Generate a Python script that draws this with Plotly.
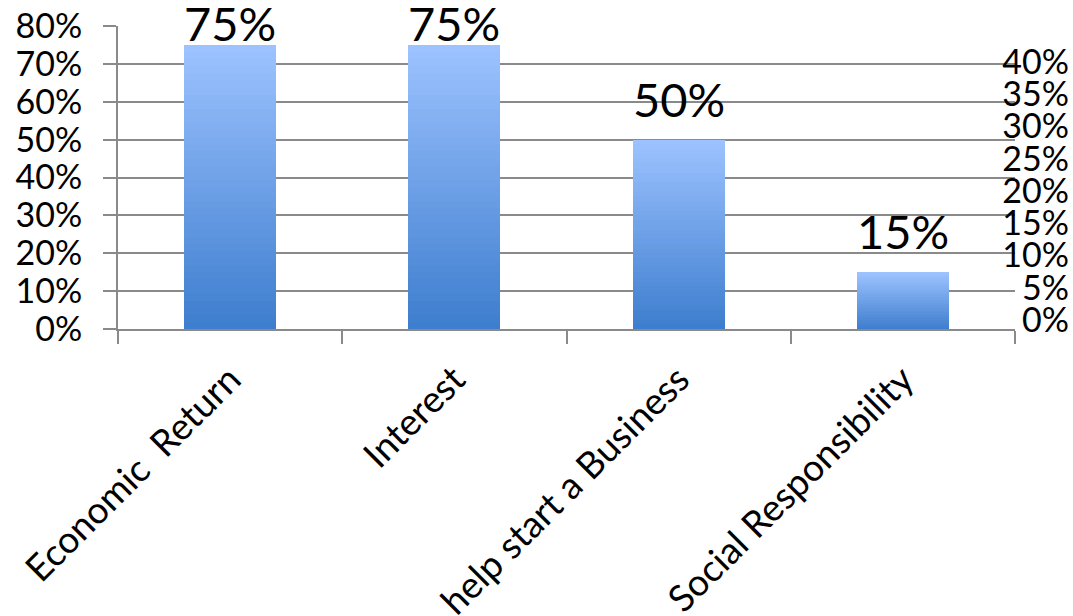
import plotly.graph_objects as go

categories = ["Economic\u00a0 Return", "Interest", "help start a Business", "Social Responsibility"]
values = [75, 75, 50, 15]
left_ticks = [0, 10, 20, 30, 40, 50, 60, 70, 80]
right_ticks = [0, 5, 10, 15, 20, 25, 30, 35, 40]

FONT = "Lato"
N = 40
top_rgb = (156, 194, 255)
bot_rgb = (62, 126, 206)

W, H = 1073, 616
PLOT_TOP, PLOT_BOTTOM, PLOT_LEFT, PLOT_RIGHT = 26, 329, 118, 1015
MR = 3
area_w = W - PLOT_LEFT - MR

fig = go.Figure()
for i in range(N):
    t = i / (N - 1)
    c = tuple(round(bot_rgb[k] + (top_rgb[k] - bot_rgb[k]) * t) for k in range(3))
    fig.add_trace(go.Bar(
        x=categories, y=[v / N for v in values],
        marker=dict(color=f"rgb{c}", line=dict(width=0)),
        hoverinfo="skip", showlegend=False))

# invisible trace for the right axis
fig.add_trace(go.Scatter(x=categories, y=[0, 0, 0, 0], yaxis="y2", mode="markers",
                         marker=dict(opacity=0), hoverinfo="skip", showlegend=False))

px_per_unit = (PLOT_BOTTOM - PLOT_TOP) / 80
for c, v in zip(categories, values):
    shift = min(41, (80.9 - v) * px_per_unit)
    fig.add_annotation(x=c, y=v, text=f"{v}%", showarrow=False, yanchor="middle",
                       yshift=shift, font=dict(family=FONT, size=47, color="black"))

# right axis geometry: 0% label at y=320 px, 40% at y=62 px
r_px = (320 - 62) / 40
y2_range = [(320 - PLOT_BOTTOM) / r_px, (320 - PLOT_TOP) / r_px]

grid = "#8a8a8a"
fig.update_layout(
    width=W, height=H,
    margin=dict(l=PLOT_LEFT, r=MR, t=PLOT_TOP, b=H - PLOT_BOTTOM),
    plot_bgcolor="white", paper_bgcolor="white",
    barmode="stack", bargap=0.59,
    font=dict(family=FONT, size=34, color="black"),
    xaxis=dict(type="category", domain=[0, (PLOT_RIGHT - PLOT_LEFT) / area_w],
               tickson="boundaries", automargin=False,
               ticks="outside", ticklen=13, tickcolor=grid, tickwidth=2,
               showline=True, linecolor=grid, linewidth=2, showgrid=False,
               tickangle=-45, ticklabelstandoff=12,
               tickfont=dict(family=FONT, size=37, color="black")),
    yaxis=dict(range=[0, 80], tickvals=left_ticks, automargin=False,
               ticktext=[f"{t}%" for t in left_ticks],
               ticks="outside", ticklen=13, tickcolor=grid, tickwidth=2,
               showline=True, linecolor=grid, linewidth=2,
               showgrid=True, gridcolor=grid, gridwidth=2, zeroline=False,
               ticklabelstandoff=14, tickfont=dict(family=FONT, size=34, color="black")),
    yaxis2=dict(overlaying="y", anchor="free", position=1.0, side="right",
                range=y2_range, tickvals=right_ticks, automargin=False,
                ticktext=[f"{t}%" for t in right_ticks],
                ticklabelposition="inside", ticklabeloverflow="allow",
                ticks="", showgrid=False, zeroline=False,
                showline=False, ticklabelstandoff=-2,
                tickfont=dict(family=FONT, size=34, color="black")),
)

fig.write_html("out.html")
